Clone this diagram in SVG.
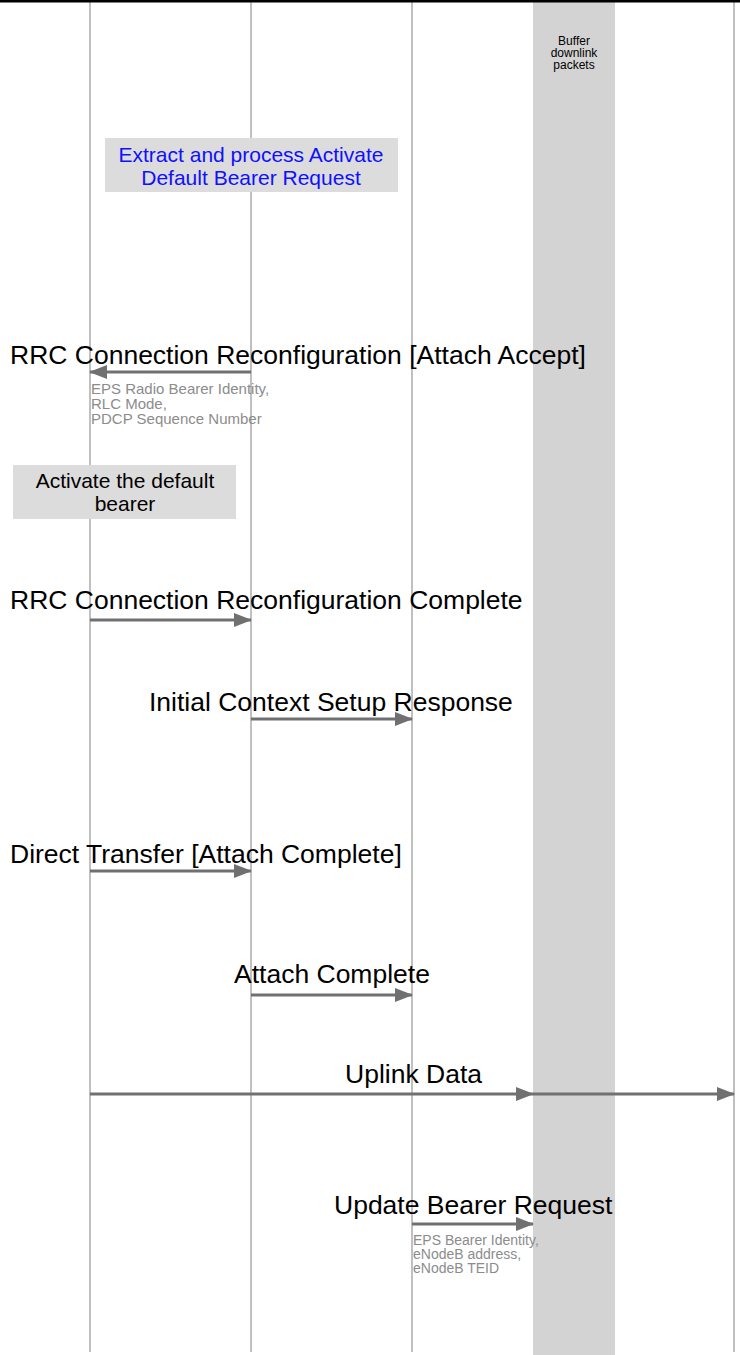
<svg xmlns="http://www.w3.org/2000/svg" width="740" height="1355" viewBox="0 0 740 1355">
<defs>
<style>
.life{stroke:#c0c0c0;stroke-width:2;fill:none}
.msg{font-family:"Liberation Sans",Arial,sans-serif;font-size:26.5px;fill:#000}
.note{font-family:"Liberation Sans",Arial,sans-serif;font-size:15px;fill:#8c8c8c}
.note2{font-family:"Liberation Sans",Arial,sans-serif;font-size:14px;fill:#8c8c8c}
.box{fill:#dcdcdc}
.btxt{font-family:"Liberation Sans",Arial,sans-serif;font-size:21px;text-anchor:middle}
.buf{font-family:"Liberation Sans",Arial,sans-serif;font-size:12px;text-anchor:middle;fill:#000}
.arr{stroke:#707070;stroke-width:3;fill:none;marker-end:url(#ah)}
</style>
<marker id="ah" markerUnits="userSpaceOnUse" markerWidth="18" markerHeight="14" refX="17" refY="7" orient="auto">
<path d="M0,0 L18,7 L0,14 Z" fill="#707070"/>
</marker>
</defs>
<rect width="740" height="1355" fill="#fff"/>
<g id="buffer">
<rect x="533" y="0" width="82" height="1355" fill="#d3d3d3"/>
<text class="buf"><tspan x="574" y="45">Buffer</tspan><tspan x="574" y="57">downlink</tspan><tspan x="574" y="69">packets</tspan></text>
</g>
<g id="lifelines">
<line class="life" x1="90" y1="0" x2="90" y2="1352"/>
<line class="life" x1="251" y1="0" x2="251" y2="1352"/>
<line class="life" x1="412" y1="0" x2="412" y2="1352"/>
<line class="life" x1="734" y1="0" x2="734" y2="1352"/>
</g>
<line x1="0" y1="1" x2="740" y2="1" stroke="#000" stroke-width="3"/>
<g id="extract">
<rect class="box" x="105" y="138" width="293" height="54"/>
<text class="btxt" fill="#1010ff"><tspan x="251" y="162">Extract and process Activate</tspan><tspan x="251" y="185">Default Bearer Request</tspan></text>
</g>
<g id="activate">
<rect class="box" x="13" y="465" width="223" height="54"/>
<text class="btxt" fill="#000"><tspan x="125" y="488">Activate the default</tspan><tspan x="125" y="511">bearer</tspan></text>
</g>
<g id="connectors">
<text class="msg" x="10" y="364">RRC Connection Reconfiguration [Attach Accept]</text>
<line class="arr" x1="251" y1="372" x2="90" y2="372"/>
<text class="note"><tspan x="91" y="394">EPS Radio Bearer Identity,</tspan><tspan x="91" y="409">RLC Mode,</tspan><tspan x="91" y="424">PDCP Sequence Number</tspan></text>

<text class="msg" x="10" y="609">RRC Connection Reconfiguration Complete</text>
<line class="arr" x1="90" y1="620" x2="251" y2="620"/>

<text class="msg" x="149" y="711">Initial Context Setup Response</text>
<line class="arr" x1="251" y1="719" x2="412" y2="719"/>

<text class="msg" x="10" y="863">Direct Transfer [Attach Complete]</text>
<line class="arr" x1="90" y1="871" x2="251" y2="871"/>

<text class="msg" x="234" y="983">Attach Complete</text>
<line class="arr" x1="251" y1="995" x2="412" y2="995"/>

<text class="msg" x="345" y="1083">Uplink Data</text>
<line class="arr" x1="90" y1="1094" x2="533" y2="1094"/>
<line class="arr" x1="533" y1="1094" x2="734" y2="1094"/>

<text class="msg" x="334" y="1214">Update Bearer Request</text>
<line class="arr" x1="412" y1="1224" x2="533" y2="1224"/>
<text class="note2"><tspan x="413" y="1245">EPS Bearer Identity,</tspan><tspan x="413" y="1259">eNodeB address,</tspan><tspan x="413" y="1273">eNodeB TEID</tspan></text>
</g>
</svg>
